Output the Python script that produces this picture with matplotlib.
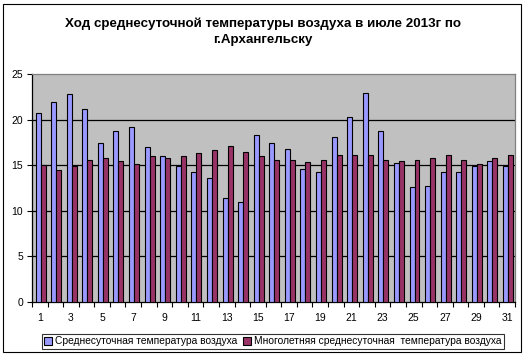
import matplotlib
matplotlib.use("Agg")
import matplotlib.pyplot as plt
import numpy as np
from matplotlib.patches import Rectangle

plt.rcParams['font.family'] = ['Liberation Sans', 'DejaVu Sans']

days = list(range(1, 32))
daily_mean = [20.7, 21.9, 22.8, 21.2, 17.4, 18.8, 19.2, 17.0, 16.0, 14.9,
              14.3, 13.6, 11.4, 11.0, 18.3, 17.4, 16.8, 14.6, 14.3, 18.1,
              20.3, 22.9, 18.7, 15.2, 12.6, 12.7, 14.3, 14.3, 14.9, 15.5, 14.9]
normal_mean = [15.0, 14.5, 14.9, 15.6, 15.8, 15.5, 15.1, 16.0, 15.8, 16.0,
               16.3, 16.7, 17.1, 16.5, 16.0, 15.6, 15.6, 15.3, 15.6, 16.1,
               16.1, 16.1, 15.6, 15.5, 15.6, 15.8, 16.1, 15.6, 15.1, 15.8, 16.1]
label_days = [str(d) for d in days if d % 2 == 1]
yticks = [0, 5, 10, 15, 20, 25]
title = "Ход среднесуточной температуры воздуха в июле 2013г по\nг.Архангельску"
series_names = ["Среднесуточная температура воздуха",
                "Многолетняя среднесуточная  температура воздуха"]

W, H = 525, 355
fig = plt.figure(figsize=(W / 100, H / 100), dpi=100)
fig.patches.append(Rectangle((2.5 / W, 3.5 / H), 518 / W, 348 / H, transform=fig.transFigure,
                             fill=False, edgecolor='black', linewidth=0.8))

L, R, T, B = 32, 515, 74, 302
ax = fig.add_axes([L / W, (H - B) / H, (R - L) / W, (B - T) / H])
ax.set_facecolor('#C0C0C0')

x = np.arange(len(days))
bw = 0.32
ax.bar(x - bw / 2 + 0.05, daily_mean, width=bw, color='#9999FF', edgecolor='black', linewidth=0.8,
       label=series_names[0], zorder=3)
ax.bar(x + bw / 2 + 0.05, normal_mean, width=bw, color='#993366', edgecolor='black', linewidth=0.8,
       label=series_names[1], zorder=3)

ax.set_xlim(-0.5, len(days) - 0.5)
ax.set_ylim(0, 25)
ax.set_yticks(yticks)
ax.set_yticklabels([str(v) for v in yticks], fontsize=7.5)
for v in yticks[1:-1]:
    ax.axhline(v, color='black', linewidth=0.9, zorder=1)

ax.set_xticks(x[::2])
ax.set_xticklabels(label_days, fontsize=7.5)
ax.tick_params(axis='x', which='major', length=0, pad=8)
ax.set_xticks(np.arange(-0.5, len(days), 1), minor=True)
ax.tick_params(axis='x', which='minor', length=3.5, width=0.8, direction='out')
ax.tick_params(axis='y', length=3.5, width=0.8, direction='out', pad=3)

for s in ['top', 'right']:
    ax.spines[s].set_color('#808080')
    ax.spines[s].set_linewidth(0.9)
for s in ['left', 'bottom']:
    ax.spines[s].set_color('black')
    ax.spines[s].set_linewidth(0.9)

fig.text(263 / W, 1 - 32 / H, title, ha='center', va='center', fontsize=9.6, fontweight='bold',
         linespacing=1.45)

leg = ax.legend(loc='lower center', bbox_to_anchor=(273 / W, 6 / H),
                bbox_transform=fig.transFigure, ncol=2, fontsize=7.4,
                frameon=True, fancybox=False, edgecolor='black', handlelength=0.75,
                handleheight=0.75, handletextpad=0.3, borderpad=0.25, columnspacing=0.6,
                borderaxespad=0)
leg.get_frame().set_linewidth(0.8)

fig.savefig('out.png', dpi=100)
